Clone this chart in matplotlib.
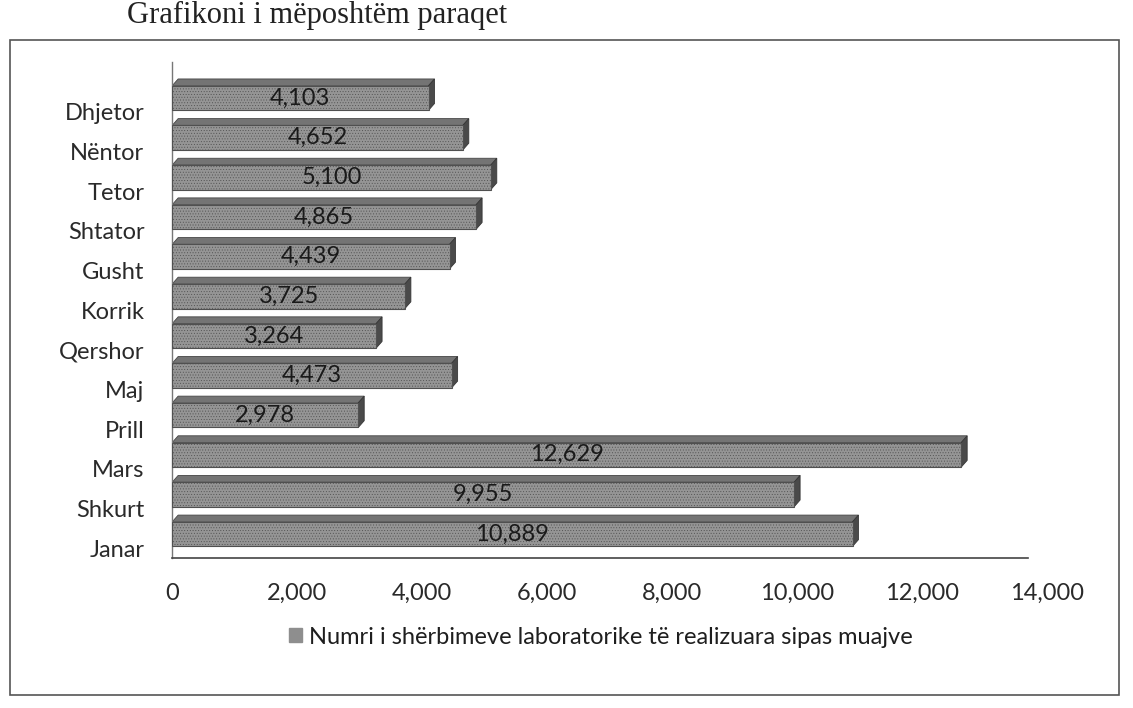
import matplotlib.pyplot as plt
from matplotlib.patches import Polygon, Rectangle
from matplotlib.ticker import FuncFormatter
from matplotlib.transforms import ScaledTranslation

# months (bottom to top) and number of lab services
months = ['Janar', 'Shkurt', 'Mars', 'Prill', 'Maj', 'Qershor',
          'Korrik', 'Gusht', 'Shtator', 'Tetor', 'Nëntor', 'Dhjetor']
values = [10889, 9955, 12629, 2978, 4473, 3264,
          3725, 4439, 4865, 5100, 4652, 4103]
x_ticks = [0, 2000, 4000, 6000, 8000, 10000, 12000, 14000]
legend_label = 'Numri i shërbimeve laboratorike të realizuara sipas muajve'

plt.rcParams['font.family'] = ['Lato', 'DejaVu Sans']

fig = plt.figure(figsize=(11.33, 7.08), dpi=100)
ax = fig.add_axes([0.152, 0.212, 0.772, 0.70])

# outer chart border
fig.patches.append(Rectangle((0.009, 0.018), 0.979, 0.925, transform=fig.transFigure,
                             fill=False, edgecolor='#555555', linewidth=1.2))

# heading of the page (partly cut off at the top in the scan)
fig.text(0.112, 0.978, 'Grafikoni i mëposhtëm paraqet', family='Liberation Serif',
         fontsize=22, color='#222222', va='center')

bar_h = 0.62
dx = 95     # depth in data units (x)
dy = 0.17   # depth in category units (y)
ypos = list(range(len(months)))

bars = ax.barh(ypos, values, height=bar_h, color='#959595', edgecolor='#505050',
               linewidth=0.8, hatch='......', zorder=3)
for b in bars:
    b.set_hatch_linewidth(0.35)

for y, v in zip(ypos, values):
    top = y + bar_h / 2
    bot = y - bar_h / 2
    # top face
    ax.add_patch(Polygon([(0, top), (v, top), (v + dx, top + dy), (dx, top + dy)],
                         closed=True, facecolor='#747474', edgecolor='#454545',
                         linewidth=0.6, zorder=2))
    # right side face
    ax.add_patch(Polygon([(v, bot), (v + dx, bot + dy), (v + dx, top + dy), (v, top)],
                         closed=True, facecolor='#4a4a4a', edgecolor='#363636',
                         linewidth=0.6, zorder=2))
    ax.text(v / 2, y, f'{v:,}', ha='center', va='center',
            fontsize=17, color='#1a1a1a', zorder=4)

ax.set_xlim(0, 14000)
ax.set_ylim(-0.6, len(months) - 0.1)
ax.set_xticks(x_ticks)
ax.xaxis.set_major_formatter(FuncFormatter(lambda v, p: f'{int(v):,}'))
ax.set_yticks(ypos)
ax.set_yticklabels(months)
ax.tick_params(axis='x', length=0, pad=18, labelsize=17, labelcolor='#2a2a2a')
ax.tick_params(axis='y', length=0, pad=20, labelsize=17, labelcolor='#2a2a2a')

# category labels sit a little below the bar centres, as in the 3-D chart
shift = ScaledTranslation(0, -10 / 72, fig.dpi_scale_trans)
for lbl in ax.get_yticklabels():
    lbl.set_transform(lbl.get_transform() + shift)

for s in ['top', 'right']:
    ax.spines[s].set_visible(False)
ax.spines['left'].set_color('#777777')
ax.spines['left'].set_linewidth(1.0)
ax.spines['bottom'].set_color('#444444')
ax.spines['bottom'].set_linewidth(1.2)
ax.spines['bottom'].set_bounds(0, 13700)

ax.legend([Rectangle((0, 0), 1, 1, facecolor='#8e8e8e', edgecolor='#8e8e8e')],
          [legend_label], loc='center', bbox_to_anchor=(0.49, -0.16),
          frameon=False, fontsize=17, handlelength=0.55, handleheight=0.55,
          handletextpad=0.3, labelcolor='#1e1e1e')

fig.savefig('out.png', dpi=100, facecolor='white')
